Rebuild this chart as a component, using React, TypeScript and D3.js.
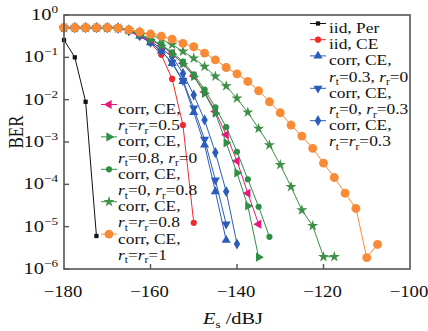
import React from 'react';
import * as d3 from 'd3';

// Es sampling grid (dBJ)
const esValues = [
  -180, -177.5, -175, -172.5, -170, -167.5, -165, -162.5, -160, -157.5, -155, -152.5, -150, -147.5, -145,
  -142.5, -140, -137.5, -135, -132.5, -130, -127.5, -125, -122.5, -120, -117.5, -115, -112.5, -110, -107.5,
];

// log10(BER), aligned with esValues from -180
const iidPerExp = [-0.59, -1.0, -2.05, -5.22];
const iidCeExp = [-0.3, -0.3, -0.3, -0.3, -0.3, -0.31, -0.38, -0.5, -0.66, -0.94, -1.51, -2.6, -4.91];
const corr03_0Exp = [-0.3, -0.3, -0.3, -0.3, -0.3, -0.31, -0.37, -0.49, -0.65, -0.85, -1.14, -1.57, -2.3, -3.07, -4.17, -5.32];
const corr0_03Exp = [-0.3, -0.3, -0.3, -0.3, -0.3, -0.31, -0.37, -0.49, -0.65, -0.85, -1.12, -1.55, -2.2, -2.94, -3.9, -4.94];
const corr03_03Exp = [-0.3, -0.3, -0.3, -0.3, -0.3, -0.31, -0.37, -0.48, -0.62, -0.79, -0.98, -1.38, -1.89, -2.48, -3.25, -4.17, -5.41];
const corr05_05Exp = [-0.3, -0.3, -0.3, -0.3, -0.3, -0.31, -0.36, -0.46, -0.58, -0.72, -0.91, -1.14, -1.44, -1.82, -2.28, -2.83, -3.45, -4.21, -4.94];
const corr08_0Exp = [-0.3, -0.3, -0.3, -0.3, -0.3, -0.31, -0.36, -0.46, -0.58, -0.72, -0.92, -1.15, -1.45, -1.85, -2.32, -3.02, -3.73, -4.51, -5.72];
const corr0_08Exp = [-0.3, -0.3, -0.3, -0.3, -0.3, -0.31, -0.36, -0.45, -0.57, -0.7, -0.88, -1.1, -1.4, -1.76, -2.18, -2.65, -3.23, -3.88, -4.53, -5.24];
const corr08_08Exp = [-0.3, -0.3, -0.3, -0.3, -0.3, -0.31, -0.35, -0.4, -0.47, -0.57, -0.7, -0.86, -1.02, -1.22, -1.45, -1.68, -1.97, -2.3, -2.68, -3.07, -3.54, -4.06, -4.61, -4.98, -5.71, -5.71];
const corr1_1Exp = [-0.3, -0.3, -0.3, -0.3, -0.3, -0.31, -0.35, -0.4, -0.45, -0.5, -0.57, -0.67, -0.75, -0.9, -1.06, -1.24, -1.39, -1.57, -1.79, -2.05, -2.31, -2.6, -2.86, -3.15, -3.5, -3.84, -4.21, -4.57, -5.73, -5.42];

const xTicks = [-180, -160, -140, -120, -100];
const yTickExps = [0, -1, -2, -3, -4, -5, -6];

type Marker = 'square' | 'circle' | 'up' | 'down' | 'left' | 'right' | 'diamond' | 'star' | 'big';
interface Series {
  exps: number[];
  color: string;
  marker: Marker;
  title: string;
  rt?: string;
  rr?: string;
  same?: string;
}

const series: Series[] = [
  {exps: iidPerExp, color: '#111111', marker: 'square', title: 'iid, Per'},
  {exps: iidCeExp, color: '#f02a2a', marker: 'circle', title: 'iid, CE'},
  {exps: corr03_0Exp, color: '#2b5cb8', marker: 'up', title: 'corr, CE,', rt: '0.3', rr: '0'},
  {exps: corr0_03Exp, color: '#2b5cb8', marker: 'down', title: 'corr, CE,', rt: '0', rr: '0.3'},
  {exps: corr03_03Exp, color: '#2b5cb8', marker: 'diamond', title: 'corr, CE,', same: '0.3'},
  {exps: corr05_05Exp, color: '#e8197e', marker: 'left', title: 'corr, CE,', same: '0.5'},
  {exps: corr08_0Exp, color: '#2f8f45', marker: 'right', title: 'corr, CE,', rt: '0.8', rr: '0'},
  {exps: corr0_08Exp, color: '#2f8f45', marker: 'circle', title: 'corr, CE,', rt: '0', rr: '0.8'},
  {exps: corr08_08Exp, color: '#3f9048', marker: 'star', title: 'corr, CE,', same: '0.8'},
  {exps: corr1_1Exp, color: '#f98a36', marker: 'big', title: 'corr, CE,', same: '1'},
];

const FONT = 'Liberation Serif';

const markerPath = (m: Marker) => {
  switch (m) {
    case 'square':
      return d3.symbol(d3.symbolSquare, 18)();
    case 'circle':
      return d3.symbol(d3.symbolCircle, 30)();
    case 'big':
      return d3.symbol(d3.symbolCircle, 62)();
    case 'diamond':
      return d3.symbol(d3.symbolDiamond, 36)();
    case 'star':
      return d3.symbol(d3.symbolStar, 38)();
    default:
      return d3.symbol(d3.symbolTriangle, 36)();
  }
};
const markerRot = (m: Marker) => (m === 'down' ? 180 : m === 'left' ? -90 : m === 'right' ? 90 : 0);

const Mark = ({x, y, s}: {x: number; y: number; s: Series}) => (
  <path
    d={markerPath(s.marker) || ''}
    transform={`translate(${x},${y}) rotate(${markerRot(s.marker)})`}
    fill={s.color}
  />
);

// the original's lettering is a bit wide, so text gets a horizontal stretch
const Txt = ({x, y, size = 14.5, stretch = 1.2, anchor = 'start', children}: any) => (
  <text
    transform={`translate(${x},${y}) scale(${stretch},1)`}
    fontFamily={FONT}
    fontSize={size}
    textAnchor={anchor}
    fill="#111"
  >
    {children}
  </text>
);

const R = ({sub}: {sub: string}) => (
  <>
    <tspan fontStyle="italic">r</tspan>
    <tspan fontSize={9.5} dy={3.5}>
      {sub}
    </tspan>
  </>
);

const ParamLine = ({s}: {s: Series}) =>
  s.same !== undefined ? (
    <>
      <R sub="t" />
      <tspan dy={-3.5}>=</tspan>
      <R sub="r" />
      <tspan dy={-3.5}>={s.same}</tspan>
    </>
  ) : (
    <>
      <R sub="t" />
      <tspan dy={-3.5}>={s.rt}, </tspan>
      <R sub="r" />
      <tspan dy={-3.5}>={s.rr}</tspan>
    </>
  );

export default function App() {
  const left = 64;
  const right = 410;
  const top = 15;
  const bottom = 269;

  const x = d3.scaleLinear().domain([-180, -100]).range([left, right]);
  const y = d3.scaleLog().domain([1e-6, 1]).range([bottom, top]);

  const line = d3
    .line<number>()
    .x((_, i) => x(esValues[i]))
    .y((e) => y(10 ** e));

  const lineH = 16.2;
  // legend positions: right block holds first 5, left block the rest
  const legendItems = series.map((s, i) => {
    if (i < 5) {
      const row = i < 2 ? i : 2 + (i - 2) * 2;
      return {s, lx: 310, tx: 329, y: 28 + row * lineH};
    }
    return {s, lx: 101, tx: 118, y: 109 + (i - 5) * 2 * lineH};
  });

  return (
    <svg width={428} height={331} style={{position: 'absolute', left: 0, top: 0, background: '#fff'}}>
      {/* series */}
      {series.map((s, si) => (
        <g key={si}>
          <path d={line(s.exps) || ''} fill="none" stroke={s.color} strokeWidth={1} />
          {s.exps.map((e, i) => (
            <Mark key={i} x={x(esValues[i])} y={y(10 ** e)} s={s} />
          ))}
        </g>
      ))}

      {/* frame */}
      <rect x={left} y={top} width={right - left} height={bottom - top} fill="none" stroke="#555" strokeWidth={1.6} />

      {/* x ticks */}
      {xTicks.map((t) => (
        <g key={t}>
          {x(t) > left + 2 && x(t) < right - 2 && (
            <line x1={x(t)} x2={x(t)} y1={bottom} y2={bottom - 5} stroke="#555" strokeWidth={1.4} />
          )}
          <Txt x={x(t) - 1} y={297} size={17} stretch={1.1} anchor="middle">
            {'\u2212' + Math.abs(t)}
          </Txt>
        </g>
      ))}

      {/* y ticks */}
      {yTickExps.map((e) => (
        <g key={e}>
          <line x1={left} x2={left + 5} y1={y(10 ** e)} y2={y(10 ** e)} stroke="#555" strokeWidth={1.4} />
          <Txt x={58} y={y(10 ** e) + 5} size={17} anchor="end">
            <tspan>10</tspan>
            <tspan fontSize={11} dy={-7}>
              {e === 0 ? '0' : '\u2212' + Math.abs(e)}
            </tspan>
          </Txt>
        </g>
      ))}

      {/* axis titles */}
      <text
        transform="translate(23,132) rotate(-90) scale(1,1.2)"
        fontFamily={FONT}
        fontSize={17}
        textAnchor="middle"
        fill="#111"
      >
        BER
      </text>
      <Txt x={233} y={324} size={17} anchor="middle">
        <tspan fontStyle="italic">E</tspan>
        <tspan fontSize={11} dy={4}>
          s
        </tspan>
        <tspan dy={-4}> /dBJ</tspan>
      </Txt>

      {/* legends */}
      {legendItems.map(({s, lx, tx, y: ly}, i) => (
        <g key={i}>
          <line x1={lx} x2={lx + 16} y1={ly - 4.5} y2={ly - 4.5} stroke={s.color} strokeWidth={1} />
          <Mark x={lx + 8} y={ly - 4.5} s={s} />
          <Txt x={tx} y={ly + 5}>
            {s.title}
          </Txt>
          {s.title.startsWith('corr') && (
            <Txt x={tx} y={ly + 5 + lineH}>
              <ParamLine s={s} />
            </Txt>
          )}
        </g>
      ))}
    </svg>
  );
}
